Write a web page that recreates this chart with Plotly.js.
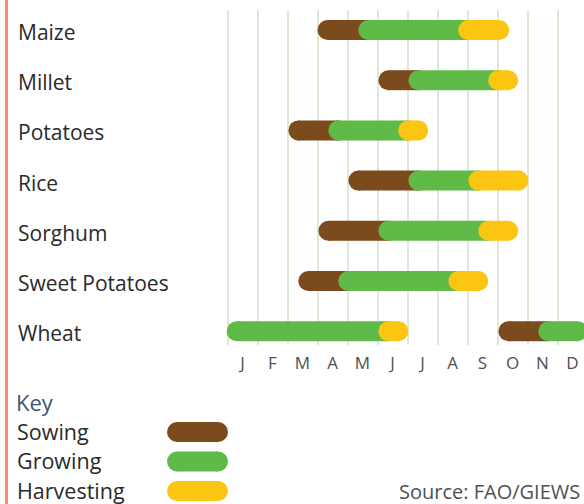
<!DOCTYPE html>
<html><head><meta charset="utf-8">
<script src="https://cdn.plot.ly/plotly-3.0.1.min.js"></script>
<style>html,body{margin:0;padding:0;background:#fff;overflow:hidden}#chart{width:584px;height:504px;}</style>
</head><body><div id="chart"></div>
<script>
// crop rows (top to bottom)
const crops = ['Maize', 'Millet', 'Potatoes', 'Rice', 'Sorghum', 'Sweet Potatoes', 'Wheat'];
// month tick labels
const months = ['J', 'F', 'M', 'A', 'M', 'J', 'J', 'A', 'S', 'O', 'N', 'D'];
// time in month units: 0 = start of January, 12 = end of December
const sowingRow   = [0, 1, 2, 3, 4, 5, 6];
const sowingStart = [3.00, 5.03, 2.03, 4.03, 3.03, 2.36, 9.03];
const sowingEnd   = [4.36, 6.03, 3.36, 6.03, 5.03, 3.69, 10.36];

const growingRow   = [0, 1, 2, 3, 4, 5, 6, 6];
const growingStart = [4.36, 6.03, 3.36, 6.03, 5.03, 3.69, -0.03, 10.36];
const growingEnd   = [7.69, 8.69, 5.69, 8.03, 8.36, 7.36, 5.03, 12.00];

const harvestRow   = [0, 1, 2, 3, 4, 5, 6];
const harvestStart = [7.69, 8.69, 5.69, 8.03, 8.36, 7.36, 5.03];
const harvestEnd   = [9.39, 9.69, 6.69, 10.03, 9.69, 8.69, 6.03];

const phases = ['Sowing', 'Growing', 'Harvesting'];
const phaseColors = ['#7b4a1d', '#5fba48', '#fcc512'];

// ---- geometry (px) ----
const W = 584, H = 504;
const plotL = 215, plotT = 10, plotB = 345;
const pxPerMonth = 30, janX = 227.5;
const rowTop = 30, rowStep = 50.2;
const barPx = 20;
const r = (barPx / 2) / pxPerMonth; // cap radius in month units

const allSegs = [];
[[sowingRow, sowingStart, sowingEnd], [growingRow, growingStart, growingEnd], [harvestRow, harvestStart, harvestEnd]]
  .forEach((p, k) => p[0].forEach((row, i) => allSegs.push({k, row, s: p[1][i], e: p[2][i]})));

function phaseTrace(k) {
  const xs = [], ys = [];
  allSegs.filter(g => g.k === k).forEach(g => {
    const hasNext = allSegs.some(o => o !== g && o.row === g.row && Math.abs(o.s - g.e) < 0.05);
    xs.push(g.s + r, hasNext ? g.e + r : g.e - r, null);
    ys.push(g.row, g.row, null);
  });
  return {
    type: 'scatter', mode: 'lines+markers', x: xs, y: ys, xaxis: 'x', yaxis: 'y',
    line: {color: phaseColors[k], width: barPx}, marker: {color: phaseColors[k], size: barPx, line: {width: 0}},
    hoverinfo: 'skip', showlegend: false
  };
}

const data = [phaseTrace(0), phaseTrace(1), phaseTrace(2)];

// key pills on a pixel overlay
const keyY0 = 432, keyStep = 29.5, keyX0 = 167, keyX1 = 228;
phases.forEach((p, k) => {
  data.push({
    type: 'scatter', mode: 'lines+markers', xaxis: 'x2', yaxis: 'y2',
    x: [keyX0 + barPx / 2, keyX1 - barPx / 2], y: [keyY0 + k * keyStep, keyY0 + k * keyStep],
    line: {color: phaseColors[k], width: barPx}, marker: {color: phaseColors[k], size: barPx, line: {width: 0}},
    hoverinfo: 'skip', showlegend: false
  });
});

const font = 'Open Sans, sans-serif';
const annotations = [];
crops.forEach((c, i) => annotations.push({
  text: c, xref: 'paper', yref: 'y', x: 16 / W, y: i, xanchor: 'left', yanchor: 'middle', yshift: -2,
  showarrow: false, font: {family: font, size: 21, color: '#2a2a2a'}
}));
annotations.push({text: 'Key', xref: 'paper', yref: 'paper', x: 14 / W, y: 1 - 402 / H, xanchor: 'left', yanchor: 'middle',
  showarrow: false, font: {family: font, size: 22, color: '#3f566f'}});
phases.forEach((p, k) => annotations.push({
  text: p, xref: 'paper', yref: 'paper', x: 15 / W, y: 1 - (keyY0 - 1 + k * keyStep) / H, xanchor: 'left', yanchor: 'middle',
  showarrow: false, font: {family: font, size: 21.5, color: '#2a2a2a'}
}));
annotations.push({text: 'Source: FAO/GIEWS', xref: 'paper', yref: 'paper', x: 397 / W, y: 1 - 491 / H, xanchor: 'left', yanchor: 'middle',
  showarrow: false, font: {family: font, size: 20, color: '#505050'}});

const layout = {
  width: W, height: H, margin: {l: 0, r: 0, t: 0, b: 0, pad: 0},
  paper_bgcolor: '#ffffff', plot_bgcolor: 'rgba(0,0,0,0)', showlegend: false,
  xaxis: {
    domain: [plotL / W, 1], range: [(plotL - janX) / pxPerMonth, (W - janX) / pxPerMonth],
    tickmode: 'array', tickvals: months.map((m, i) => i + 0.5), ticktext: months,
    showgrid: false, zeroline: false, showline: false, ticks: '', ticklabelstandoff: 6,
    tickfont: {family: font, size: 17, color: '#505050'},
    minor: {tick0: 0, dtick: 1, showgrid: true, gridcolor: '#dfe9d8', gridwidth: 2, ticks: ''},
    fixedrange: true
  },
  yaxis: {
    domain: [1 - plotB / H, 1 - plotT / H],
    range: [(plotB - rowTop) / rowStep, (plotT - rowTop) / rowStep],
    showticklabels: false, showgrid: false, zeroline: false, showline: false, ticks: '', fixedrange: true
  },
  xaxis2: {domain: [0, 1], range: [0, W], visible: false, anchor: 'y2', fixedrange: true},
  yaxis2: {domain: [0, 1], range: [H, 0], visible: false, anchor: 'x2', fixedrange: true},
  shapes: [{type: 'line', xref: 'paper', yref: 'paper', x0: 6.5 / W, x1: 6.5 / W, y0: 0, y1: 1,
    line: {color: '#f2926a', width: 3}}],
  annotations: annotations
};

Plotly.newPlot('chart', data, layout, {staticPlot: true, displayModeBar: false});
</script>
</body></html>
